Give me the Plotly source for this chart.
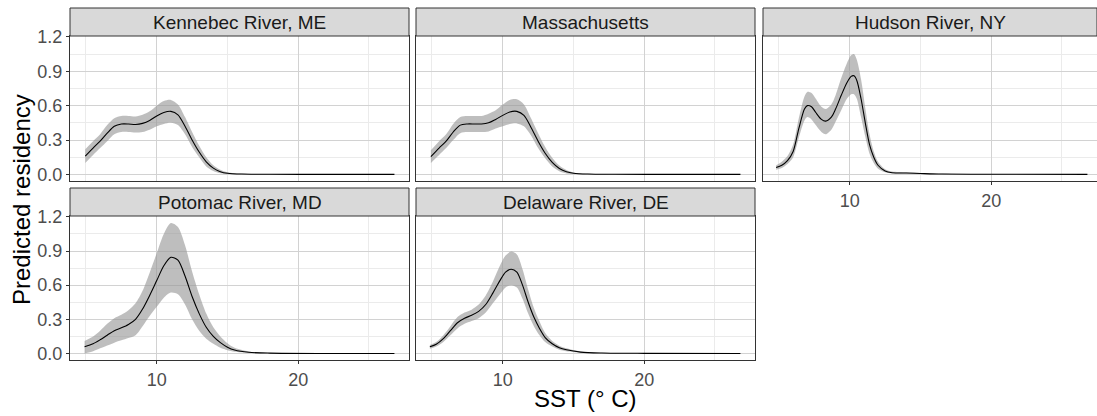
import plotly.graph_objects as go

# ---------------- data ----------------
sites = ["Kennebec River, ME", "Massachusetts", "Hudson River, NY",
         "Potomac River, MD", "Delaware River, DE"]

ken_x = [4.95, 5.5, 6.0, 6.5, 7.0, 7.5, 8.0, 8.5, 9.0, 9.5, 10.0, 10.5, 11.0, 11.5, 12.0,
         12.5, 13.0, 13.5, 14.0, 14.5, 15.0, 16.0, 18.0, 22.0, 26.8]
ken_mean = [0.16, 0.23, 0.29, 0.36, 0.42, 0.44, 0.44, 0.435, 0.445, 0.47, 0.51, 0.54, 0.55, 0.52,
            0.42, 0.30, 0.195, 0.11, 0.055, 0.024, 0.01, 0.003, 0.001, 0.0, 0.0]
ken_hi = [0.22, 0.29, 0.35, 0.43, 0.49, 0.51, 0.51, 0.505, 0.52, 0.55, 0.60, 0.64, 0.65, 0.61,
          0.50, 0.37, 0.25, 0.15, 0.08, 0.04, 0.018, 0.006, 0.002, 0.0, 0.0]
ken_lo = [0.10, 0.17, 0.23, 0.29, 0.35, 0.37, 0.37, 0.365, 0.37, 0.39, 0.42, 0.44, 0.45, 0.43,
          0.35, 0.24, 0.15, 0.07, 0.03, 0.01, 0.003, 0.001, 0.0, 0.0, 0.0]

mas_x = [4.92, 5.5, 6.0, 6.5, 7.0, 7.5, 8.0, 8.5, 9.0, 9.5, 10.0, 10.5, 11.0, 11.5, 12.0,
         12.5, 13.0, 13.5, 14.0, 14.5, 15.0, 16.0, 18.0, 22.0, 26.8]
mas_mean = [0.155, 0.23, 0.29, 0.37, 0.43, 0.44, 0.44, 0.44, 0.45, 0.48, 0.515, 0.545, 0.55, 0.515,
            0.41, 0.29, 0.185, 0.105, 0.052, 0.023, 0.01, 0.003, 0.001, 0.0, 0.0]
mas_hi = [0.21, 0.29, 0.35, 0.44, 0.50, 0.51, 0.51, 0.51, 0.53, 0.56, 0.61, 0.65, 0.655, 0.61,
          0.49, 0.36, 0.24, 0.145, 0.077, 0.038, 0.017, 0.006, 0.002, 0.0, 0.0]
mas_lo = [0.10, 0.17, 0.23, 0.30, 0.36, 0.37, 0.37, 0.37, 0.375, 0.40, 0.42, 0.44, 0.445, 0.42,
          0.34, 0.23, 0.14, 0.068, 0.028, 0.009, 0.003, 0.001, 0.0, 0.0, 0.0]

hud_x = [4.8, 5.2, 5.6, 6.0, 6.4, 6.8, 7.0, 7.3, 7.6, 8.0, 8.3, 8.7, 9.0, 9.4, 9.8, 10.1, 10.3,
         10.5, 10.8, 11.1, 11.4, 11.7, 12.0, 12.5, 13.0, 14.0, 15.0, 16.5, 20.0, 26.8]
hud_mean = [0.06, 0.08, 0.12, 0.20, 0.40, 0.57, 0.60, 0.59, 0.54, 0.48, 0.465, 0.50, 0.57, 0.69,
            0.80, 0.855, 0.86, 0.82, 0.66, 0.45, 0.26, 0.15, 0.08, 0.03, 0.015, 0.012, 0.008,
            0.003, 0.001, 0.0]
hud_hi = [0.08, 0.11, 0.16, 0.26, 0.49, 0.68, 0.72, 0.71, 0.66, 0.59, 0.57, 0.61, 0.69, 0.84,
          0.97, 1.04, 1.05, 1.00, 0.83, 0.58, 0.35, 0.20, 0.11, 0.045, 0.025, 0.018, 0.012,
          0.005, 0.002, 0.0]
hud_lo = [0.04, 0.055, 0.09, 0.15, 0.32, 0.47, 0.50, 0.48, 0.43, 0.37, 0.35, 0.39, 0.46, 0.56,
          0.66, 0.70, 0.70, 0.66, 0.50, 0.33, 0.18, 0.10, 0.05, 0.018, 0.008, 0.006, 0.004,
          0.001, 0.0, 0.0]

pot_x = [4.9, 5.5, 6.0, 6.5, 7.0, 7.5, 8.0, 8.5, 9.0, 9.5, 10.0, 10.5, 11.0, 11.5, 12.0, 12.5,
         13.0, 13.5, 14.0, 14.5, 15.0, 15.5, 16.5, 18.0, 22.0, 26.8]
pot_mean = [0.058, 0.085, 0.12, 0.16, 0.20, 0.225, 0.255, 0.30, 0.39, 0.51, 0.64, 0.77, 0.845,
            0.82, 0.68, 0.50, 0.35, 0.23, 0.15, 0.095, 0.055, 0.03, 0.01, 0.003, 0.0, 0.0]
pot_hi = [0.11, 0.15, 0.20, 0.26, 0.31, 0.34, 0.38, 0.44, 0.55, 0.71, 0.88, 1.05, 1.145, 1.11,
          0.95, 0.72, 0.52, 0.35, 0.23, 0.15, 0.09, 0.05, 0.018, 0.005, 0.001, 0.0]
pot_lo = [0.0, 0.02, 0.045, 0.07, 0.095, 0.115, 0.135, 0.16, 0.24, 0.33, 0.41, 0.49, 0.535, 0.52,
          0.43, 0.30, 0.20, 0.13, 0.085, 0.05, 0.028, 0.014, 0.004, 0.001, 0.0, 0.0]

del_x = [4.85, 5.3, 5.8, 6.3, 6.8, 7.3, 7.8, 8.3, 8.8, 9.3, 9.8, 10.2, 10.6, 11.0, 11.4, 11.8,
         12.2, 12.6, 13.0, 13.5, 14.0, 14.5, 15.5, 17.0, 20.0, 26.8]
del_mean = [0.058, 0.08, 0.13, 0.20, 0.27, 0.31, 0.335, 0.37, 0.43, 0.53, 0.64, 0.715, 0.74,
            0.715, 0.60, 0.45, 0.32, 0.22, 0.14, 0.085, 0.05, 0.032, 0.012, 0.004, 0.001, 0.0]
del_hi = [0.075, 0.10, 0.16, 0.24, 0.32, 0.36, 0.385, 0.43, 0.51, 0.63, 0.77, 0.86, 0.895, 0.87,
          0.74, 0.56, 0.40, 0.28, 0.18, 0.11, 0.068, 0.045, 0.018, 0.006, 0.001, 0.0]
del_lo = [0.042, 0.06, 0.10, 0.16, 0.22, 0.26, 0.285, 0.31, 0.36, 0.44, 0.52, 0.58, 0.60, 0.58,
          0.48, 0.35, 0.24, 0.16, 0.10, 0.06, 0.033, 0.02, 0.007, 0.002, 0.0, 0.0]

x_ticks = [10, 20]
y_ticks = [0.0, 0.3, 0.6, 0.9, 1.2]
x_title = "SST (° C)"
y_title = "Predicted residency"

series = [
    (ken_x, ken_mean, ken_lo, ken_hi),
    (mas_x, mas_mean, mas_lo, mas_hi),
    (hud_x, hud_mean, hud_lo, hud_hi),
    (pot_x, pot_mean, pot_lo, pot_hi),
    (del_x, del_mean, del_lo, del_hi),
]

# ---------------- layout geometry (pixels) ----------------
W, H = 1097, 416
px_cols = [(70, 409), (416, 755), (763, 1097)]
px_rows = [(36, 181), (216, 360)]          # plot-area top/bottom
strip_h = 28
panel_pos = [(0, 0), (1, 0), (2, 0), (0, 1), (1, 1)]
xr0, xr1 = 3.87, 27.83
px_per_unit = (px_cols[0][1] - px_cols[0][0]) / (xr1 - xr0)
yr = [-0.0575, 1.2075]

FONT = "Liberation Sans, Arial, sans-serif"
TICK_COL = "#4D4D4D"
BORDER = "#333333"

fig = go.Figure()
layout = dict(
    template="none",
    width=W, height=H, margin=dict(l=0, r=0, t=0, b=0, pad=0, autoexpand=False),
    paper_bgcolor="white", plot_bgcolor="white", showlegend=False,
    font=dict(family=FONT, color="black"),
)
shapes, annotations = [], []

for i, ((ci, ri), (xs, m, lo, hi), name) in enumerate(zip(panel_pos, series, sites)):
    k = "" if i == 0 else str(i + 1)
    xa, ya = "x" + k, "y" + k
    c0, c1 = px_cols[ci]
    t, b = px_rows[ri]
    xdom = [c0 / W, c1 / W]
    ydom = [1 - b / H, 1 - t / H]
    xend = xr0 + (c1 - c0) / px_per_unit

    show_x = (ri == 1) or (ci == 2)
    show_y = (ci == 0)

    layout["xaxis" + k] = dict(
        domain=xdom, anchor=ya, range=[xr0, xend], automargin=False,
        tickmode="array", tickvals=x_ticks, showticklabels=show_x,
        ticks="outside" if show_x else "", ticklen=3, tickcolor=BORDER,
        tickfont=dict(size=18, color=TICK_COL, family=FONT),
        showgrid=True, gridcolor="#D2D2D2", gridwidth=1,
        minor=dict(showgrid=True, gridcolor="#EBEBEB", gridwidth=1, tickvals=[5, 15, 25]),
        showline=True, mirror=True, linecolor=BORDER, linewidth=1, zeroline=False,
    )
    layout["yaxis" + k] = dict(
        domain=ydom, anchor=xa, range=yr, automargin=False,
        tickmode="array", tickvals=y_ticks, ticktext=[f"{v:.1f}" for v in y_ticks],
        showticklabels=show_y,
        ticks="outside" if show_y else "", ticklen=3, tickcolor=BORDER,
        tickfont=dict(size=18, color=TICK_COL, family=FONT),
        showgrid=True, gridcolor="#D2D2D2", gridwidth=1,
        minor=dict(showgrid=True, gridcolor="#EBEBEB", gridwidth=1,
                   tickvals=[0.15, 0.45, 0.75, 1.05]),
        showline=True, mirror=True, linecolor=BORDER, linewidth=1, zeroline=False,
    )

    fig.add_trace(go.Scatter(x=xs, y=lo, mode="lines", line=dict(width=0, shape="spline", smoothing=0.8),
                             xaxis=xa, yaxis=ya, hoverinfo="skip"))
    fig.add_trace(go.Scatter(x=xs, y=hi, mode="lines", line=dict(width=0, shape="spline", smoothing=0.8),
                             fill="tonexty", fillcolor="rgba(150,150,150,0.62)",
                             xaxis=xa, yaxis=ya, hoverinfo="skip"))
    fig.add_trace(go.Scatter(x=xs, y=m, mode="lines",
                             line=dict(color="black", width=1.1, shape="spline", smoothing=0.8),
                             xaxis=xa, yaxis=ya))

    # strip
    shapes.append(dict(type="rect", xref="paper", yref="paper",
                       x0=c0 / W, x1=c1 / W, y0=1 - t / H, y1=1 - (t - strip_h) / H,
                       fillcolor="#D9D9D9", line=dict(color=BORDER, width=1), layer="above"))
    annotations.append(dict(text=name, xref="paper", yref="paper",
                            x=(c0 + c1) / 2 / W, y=1 - (t - strip_h / 2) / H,
                            showarrow=False, xanchor="center", yanchor="middle",
                            font=dict(size=19, color="#1A1A1A", family=FONT)))

annotations.append(dict(text=x_title, xref="paper", yref="paper", x=585 / W, y=1 - 398 / H,
                        showarrow=False, xanchor="center", yanchor="middle",
                        font=dict(size=24, color="black", family=FONT)))
annotations.append(dict(text=y_title, xref="paper", yref="paper", x=21 / W, y=1 - 200 / H,
                        showarrow=False, xanchor="center", yanchor="middle", textangle=-90,
                        font=dict(size=24, color="black", family=FONT)))

layout["shapes"] = shapes
layout["annotations"] = annotations
fig.update_layout(**layout)

pin_js = ("document.body.style.margin='0';document.body.style.overflow='hidden';"
          "var d=document.getElementById('{plot_id}');"
          "d.style.position='fixed';d.style.left='0px';d.style.top='0px';")
fig.write_html("out.html", post_script=pin_js, config={"displayModeBar": False})
